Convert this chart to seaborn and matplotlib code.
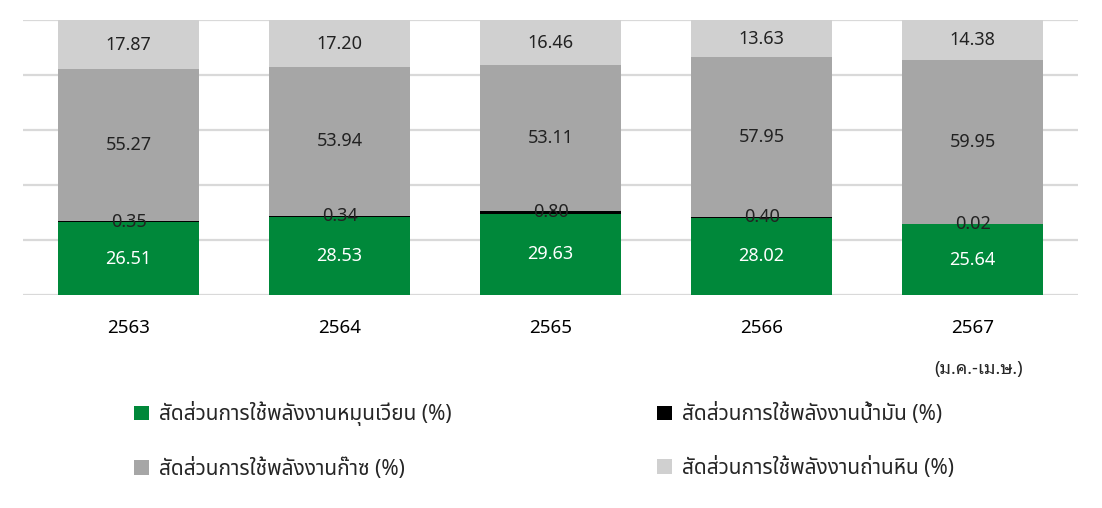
import numpy as np
import pandas as pd
import seaborn as sns
import matplotlib
matplotlib.use("Agg")
import matplotlib.pyplot as plt

years = ["2563", "2564", "2565", "2566", "2567"]
renewable = [26.51, 28.53, 29.63, 28.02, 25.64]
oil = [0.35, 0.34, 0.80, 0.40, 0.02]
gas = [55.27, 53.94, 53.11, 57.95, 59.95]
coal = [17.87, 17.20, 16.46, 13.63, 14.38]

lab_renew = "สัดส่วนการใช้พลังงานหมุนเวียน (%)"
lab_oil = "สัดส่วนการใช้พลังงานน้ำมัน (%)"
lab_gas = "สัดส่วนการใช้พลังงานก๊าซ (%)"
lab_coal = "สัดส่วนการใช้พลังงานถ่านหิน (%)"
note_2567 = "(ม.ค.-เม.ษ.)"

c_green = "#00883A"
c_oil = "#000000"
c_gas = "#A6A6A6"
c_coal = "#D0D0D0"

sns.set_theme(style="white")
num_font = ["Noto Sans", "DejaVu Sans"]
thai_font = ["Noto Sans Thai", "Noto Sans", "DejaVu Sans"]
plt.rcParams["font.family"] = num_font

df = pd.DataFrame({"year": years, "renewable": renewable, "oil": oil,
                   "gas": gas, "coal": coal})
# cumulative tops for the overlay style stacking
df["top_oil"] = df["renewable"] + df["oil"]
df["top_gas"] = df["top_oil"] + df["gas"]
df["top_coal"] = df["top_gas"] + df["coal"]

fig = plt.figure(figsize=(11.02, 5.08), dpi=100)
ax = fig.add_axes([0.0209, 0.4193, 0.9574, 0.5413])

bw = 0.67
sns.barplot(data=df, x="year", y="top_coal", color=c_coal, width=bw,
            label=lab_coal, ax=ax, saturation=1, linewidth=0, zorder=2)
sns.barplot(data=df, x="year", y="top_gas", color=c_gas, width=bw,
            label=lab_gas, ax=ax, saturation=1, linewidth=0, zorder=2)
sns.barplot(data=df, x="year", y="top_oil", color=c_oil, width=bw,
            label=lab_oil, ax=ax, saturation=1, linewidth=0, zorder=2)
sns.barplot(data=df, x="year", y="renewable", color=c_green, width=bw,
            label=lab_renew, ax=ax, saturation=1, linewidth=0, zorder=2)
if ax.get_legend() is not None:
    ax.get_legend().remove()

# value labels in the middle of each segment
for i, r in df.iterrows():
    ax.text(i, r["renewable"] / 2, f"{r['renewable']:.2f}", ha="center",
            va="center", color="white", fontsize=13, zorder=5)
    ax.text(i, r["renewable"] + r["oil"] / 2, f"{r['oil']:.2f}", ha="center",
            va="center", color="#222222", fontsize=13, zorder=5)
    ax.text(i, r["top_oil"] + r["gas"] / 2, f"{r['gas']:.2f}", ha="center",
            va="center", color="#222222", fontsize=13, zorder=5)
    ax.text(i, r["top_gas"] + r["coal"] / 2, f"{r['coal']:.2f}", ha="center",
            va="center", color="#222222", fontsize=13, zorder=5)

ax.set_ylim(0, 100)
ax.set_xlim(-0.5, len(years) - 0.5)
ax.set_yticks(np.arange(0, 101, 20))
ax.set_yticklabels([])
ax.yaxis.grid(True, color="#D9D9D9", linewidth=1.6, zorder=0)
ax.set_axisbelow(True)
ax.set_xlabel("")
ax.set_ylabel("")
for s in ax.spines.values():
    s.set_visible(False)
ax.tick_params(axis="x", length=0, pad=17, labelsize=13.5, labelcolor="black")
ax.tick_params(axis="y", length=0)
for t in ax.get_xticklabels():
    t.set_fontweight("medium")

ax.annotate(note_2567, xy=(4, 0), xycoords=("data", "axes fraction"),
            xytext=(4, -53), textcoords="offset points", ha="center",
            va="center", fontsize=13,
            family=["Noto Sans Thai Looped", "Noto Sans", "DejaVu Sans"])

h, l = ax.get_legend_handles_labels()
order = [lab_renew, lab_gas, lab_oil, lab_coal]
hd = dict(zip(l, h))
fig.legend([hd[k] for k in order], order, ncol=2, loc="upper left",
           bbox_to_anchor=(0.105, 0.247), frameon=False,
           prop={"family": thai_font, "size": 15},
           handlelength=0.7, handleheight=0.7, handletextpad=0.5,
           columnspacing=9.85, labelspacing=1.5)

fig.savefig("out.png", dpi=100)
